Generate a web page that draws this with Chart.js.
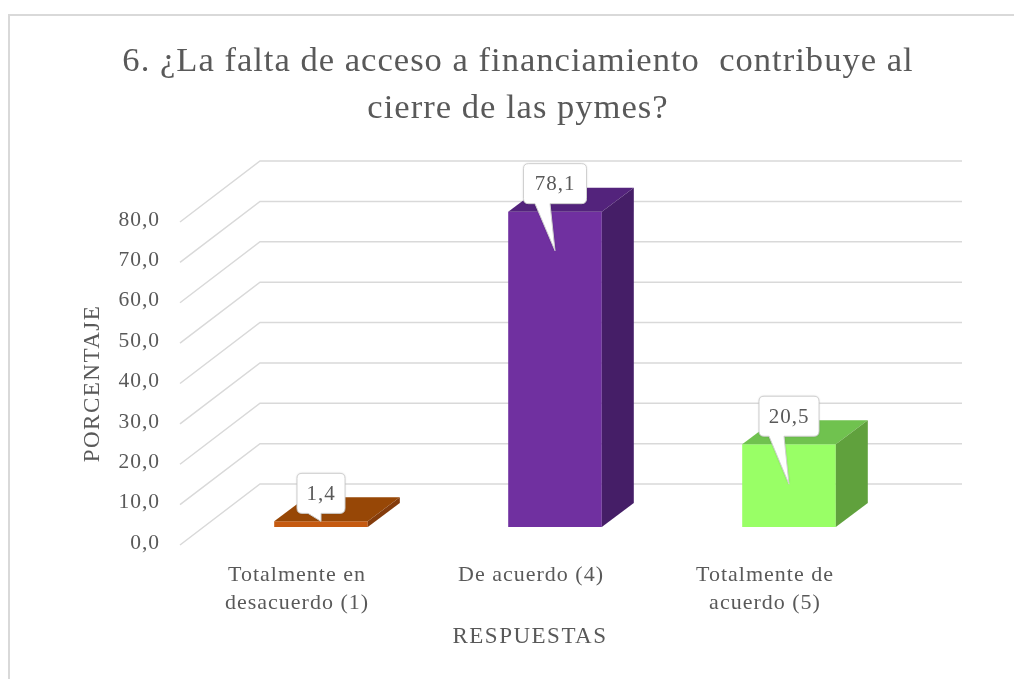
<!DOCTYPE html>
<html lang="es">
<head>
<meta charset="utf-8">
<style>
html,body{margin:0;padding:0;background:#fff;overflow:hidden}
#wrap{position:absolute;left:0;top:0;width:1014px;height:679px}
#frame{position:absolute;left:8px;top:14px;width:1020px;height:680px;border:2px solid #d9d9d9;box-sizing:border-box;pointer-events:none}
canvas{position:absolute;left:0;top:0}
</style>
<script src="https://cdn.jsdelivr.net/npm/chart.js@4/dist/chart.umd.min.js"></script>
</head>
<body>
<div id="wrap"><div id="frame"></div><canvas id="c" width="1014" height="679"></canvas></div>
<script>
const titleLines = ['6. ¿La falta de acceso a financiamiento  contribuye al', 'cierre de las pymes?'];
const categories = [['Totalmente en', 'desacuerdo (1)'], 'De acuerdo (4)', ['Totalmente de', 'acuerdo (5)']];
const values = [1.4, 78.1, 20.5];
const frontColors = ['#c55a11', '#7030a0', '#99ff66'];
const topColors = ['#974706', '#53237c', '#70c24f'];
const sideColors = ['#843c0c', '#451e67', '#60a13d'];
const yTitle = 'PORCENTAJE';
const xTitle = 'RESPUESTAS';
const calloutTipDrop = [0, 39, 40];
const calloutWidths = [48, 63, 60];

const FONT = '"Liberation Serif", "Times New Roman", serif';
const GREY = '#595959';
const fmt = v => v.toFixed(1).replace('.', ',');
const BAR_DX = 32, BAR_DY = 24;
const BACK_DX = 56, BACK_DY = 43;
const FRONT_DX = 24, FRONT_DY = 18;

const stretch = {
  id: 'stretch',
  afterLayout(chart) {
    chart.scales.y.left = 22;
    chart.titleBlock.left = 22;
    chart.titleBlock.right = 1014;
  },
  beforeDraw(chart) { chart.ctx.letterSpacing = '1px'; }
};

const walls = {
  id: 'walls',
  beforeDatasetsDraw(chart) {
    const { ctx, chartArea, scales: { y } } = chart;
    ctx.save();
    ctx.strokeStyle = '#d9d9d9';
    ctx.lineWidth = 1.5;
    y.ticks.forEach(t => {
      const py = y.getPixelForValue(t.value);
      ctx.beginPath();
      ctx.moveTo(chartArea.left - FRONT_DX, py + FRONT_DY);
      ctx.lineTo(chartArea.left + BACK_DX, py - BACK_DY);
      ctx.lineTo(chartArea.right + BACK_DX, py - BACK_DY);
      ctx.stroke();
    });
    ctx.restore();
  }
};

const poly = (ctx, pts, fill) => {
  ctx.fillStyle = fill;
  ctx.beginPath();
  pts.forEach((p, i) => i ? ctx.lineTo(p[0], p[1]) : ctx.moveTo(p[0], p[1]));
  ctx.closePath();
  ctx.fill();
};

const bars3d = {
  id: 'bars3d',
  afterDatasetsDraw(chart) {
    const { ctx } = chart;
    const els = chart.getDatasetMeta(0).data;
    ctx.save();
    els.forEach((el, i) => {
      const p = el.getProps(['x', 'y', 'base', 'width']);
      const l = p.x - p.width / 2, r = p.x + p.width / 2;
      poly(ctx, [[l, p.y], [r, p.y], [r + BAR_DX, p.y - BAR_DY], [l + BAR_DX, p.y - BAR_DY]], topColors[i]);
      poly(ctx, [[r, p.y], [r + BAR_DX, p.y - BAR_DY], [r + BAR_DX, p.base - BAR_DY], [r, p.base]], sideColors[i]);
    });
    // callouts
    els.forEach((el, i) => {
      const p = el.getProps(['x', 'y']);
      const w = calloutWidths[i], h = 40;
      const left = p.x - w / 2, bottom = p.y - 8, top = bottom - h;
      const tipX = p.x, tipY = p.y + calloutTipDrop[i];
      const bl = i === 0 ? p.x - 13 : p.x - 20, br = i === 0 ? p.x : p.x - 5;
      ctx.save();
      ctx.shadowColor = 'rgba(0,0,0,0.25)';
      ctx.shadowBlur = 2;
      ctx.fillStyle = '#fff';
      ctx.strokeStyle = '#d0d0d0';
      ctx.lineWidth = 1;
      ctx.beginPath();
      ctx.moveTo(left + 5, top);
      ctx.lineTo(left + w - 5, top);
      ctx.quadraticCurveTo(left + w, top, left + w, top + 5);
      ctx.lineTo(left + w, bottom - 5);
      ctx.quadraticCurveTo(left + w, bottom, left + w - 5, bottom);
      ctx.lineTo(br, bottom);
      ctx.lineTo(tipX, tipY);
      ctx.lineTo(bl, bottom);
      ctx.lineTo(left + 5, bottom);
      ctx.quadraticCurveTo(left, bottom, left, bottom - 5);
      ctx.lineTo(left, top + 5);
      ctx.quadraticCurveTo(left, top, left + 5, top);
      ctx.closePath();
      ctx.fill();
      ctx.shadowColor = 'transparent';
      ctx.stroke();
      ctx.restore();
      ctx.fillStyle = GREY;
      ctx.font = '21px ' + FONT;
      ctx.textAlign = 'center';
      ctx.textBaseline = 'middle';
      ctx.fillText(fmt(values[i]), p.x, top + h / 2 + 1);
    });
    // axis titles sit on the front plane of the 3D box
    const { chartArea } = chart;
    ctx.fillStyle = GREY;
    ctx.font = '23px ' + FONT;
    ctx.letterSpacing = '1.5px';
    ctx.textAlign = 'center';
    ctx.textBaseline = 'middle';
    ctx.fillText(xTitle, (chartArea.left + chartArea.right) / 2 - FRONT_DX - 1, 637);
    ctx.translate(93, (chartArea.top + chartArea.bottom) / 2 + FRONT_DY);
    ctx.rotate(-Math.PI / 2);
    ctx.fillText(yTitle, 0, 0);
    ctx.restore();
  }
};

new Chart(document.getElementById('c'), {
  type: 'bar',
  data: {
    labels: categories,
    datasets: [{
      data: values,
      backgroundColor: frontColors,
      borderWidth: 0,
      barPercentage: 1,
      categoryPercentage: 0.4
    }]
  },
  options: {
    responsive: false,
    animation: false,
    devicePixelRatio: 1,
    layout: { padding: { left: 130, right: 108, top: 0, bottom: 0 } },
    plugins: {
      legend: { display: false },
      tooltip: { enabled: false },
      title: {
        display: true,
        text: titleLines,
        color: GREY,
        font: { family: FONT, size: 34.6, weight: 'normal', lineHeight: 47 / 34.6 },
        padding: { top: 38, bottom: 72 }
      }
    },
    scales: {
      x: {
        afterFit: s => { s.height = 152; },
        grid: { display: false, drawTicks: false },
        border: { display: false },
        ticks: {
          color: GREY, padding: 34, labelOffset: -24, maxRotation: 0, autoSkip: false,
          font: { family: FONT, size: 22, lineHeight: 1.27 }
        }
      },
      y: {
        min: 0, max: 80,
        afterFit: s => { s.width = 74; },
        grid: { display: false, drawTicks: false },
        border: { display: false },
        ticks: {
          stepSize: 10, color: GREY, padding: 44, labelOffset: 16,
          font: { family: FONT, size: 21.5 },
          callback: v => fmt(v)
        }
      }
    }
  },
  plugins: [stretch, walls, bars3d]
});
</script>
</body>
</html>
